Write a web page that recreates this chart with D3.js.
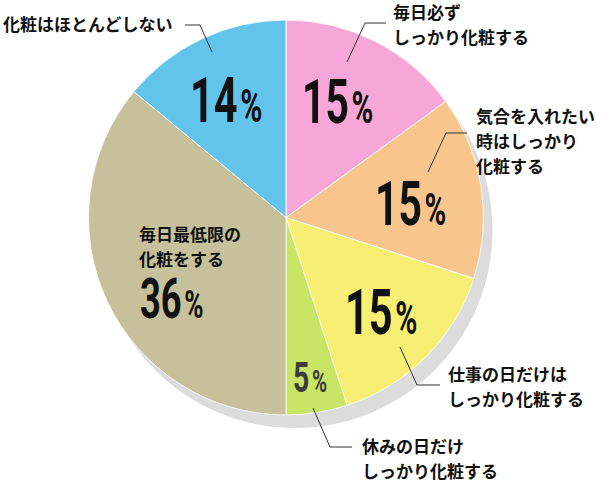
<!DOCTYPE html>
<html lang="ja">
<head>
<meta charset="UTF-8">
<title>化粧の頻度</title>
<script src="https://d3js.org/d3.v7.min.js"></script>
<style>
  body{margin:0;background:#fff;}
  svg{display:block;}
  .cat{font-family:"Noto Sans CJK JP",sans-serif;font-weight:700;font-size:17px;fill:#111;}
  .pct{font-family:Roboto,"DejaVu Sans Condensed",sans-serif;font-weight:700;}
</style>
</head>
<body>
<svg width="601" height="486"></svg>
<script>
// data, clockwise from 12 o'clock
const categories = [
  ["毎日必ず", "しっかり化粧する"],
  ["気合を入れたい", "時はしっかり", "化粧する"],
  ["仕事の日だけは", "しっかり化粧する"],
  ["休みの日だけ", "しっかり化粧する"],
  ["毎日最低限の", "化粧をする"],
  ["化粧はほとんどしない"]
]
const values = [15, 15, 15, 5, 36, 14]
const colors = ["#f7a7d7", "#f8c68c", "#f7ef74", "#c8e566", "#c6c09b", "#63c4eb"]

// annotation layout (text block origin, leader polyline, percent label spot)
const layout = [
  {text:[393,19],  lead:[[347,62],[365,23],[386,23]],   pct:[302,123], size:62},
  {text:[476,123], lead:[[428,172],[446,133],[467,133]], pct:[375,225], size:62},
  {text:[448,381], lead:[[400,347],[417,385],[440,385]], pct:[345,334], size:63},
  {text:[362,453], lead:[[313,408],[330,447],[352,447]], pct:[293,392], size:43, dim:true},
  {text:[139,241], lead:null,                           pct:[140,318], size:55},
  {text:[3,31],    lead:[[212,52],[200,25],[185,25]],   pct:[190,122], size:63}
]

const svg = d3.select("svg")
const cx = 286, cy = 217.5, r = 197.5

// drop shadow
svg.append("circle")
  .attr("cx", cx + 9).attr("cy", cy + 13).attr("r", r)
  .attr("fill", "#dcdcdc")

const pie = d3.pie().sort(null).value(d => d)
const arc = d3.arc().innerRadius(0).outerRadius(r)

const g = svg.append("g").attr("transform", `translate(${cx},${cy})`)
g.selectAll("path")
  .data(pie(values))
  .enter()
  .append("path")
  .attr("d", arc)
  .attr("fill", (d, i) => colors[i])
  .attr("stroke", "#fff")
  .attr("stroke-opacity", .85)
  .attr("stroke-width", 1)

// leaders
const line = d3.line()
svg.append("g").selectAll("path")
  .data(layout.filter(d => d.lead))
  .enter()
  .append("path")
  .attr("d", d => line(d.lead))
  .attr("fill", "none")
  .attr("stroke", "#333")
  .attr("stroke-width", 1)

// category labels
categories.forEach((lines, i) => {
  const t = svg.append("text").attr("class", "cat")
    .attr("x", layout[i].text[0]).attr("y", layout[i].text[1])
  lines.forEach((s, k) => {
    t.append("tspan").attr("x", layout[i].text[0]).attr("dy", k ? 25 : 0).text(s)
  })
})

// percent labels (condensed by horizontal scaling)
values.forEach((v, i) => {
  const L = layout[i]
  const t = svg.append("g")
    .attr("transform", `translate(${L.pct[0]},${L.pct[1]}) scale(0.66,1)`)
    .append("text").attr("class", "pct")
    .style("fill", L.dim ? "#3c3c3c" : "#111")
  t.append("tspan").attr("font-size", L.size).text(v)
  t.append("tspan").attr("font-size", L.size * 0.72).attr("dx", 4).text("%")
})
</script>
</body>
</html>
